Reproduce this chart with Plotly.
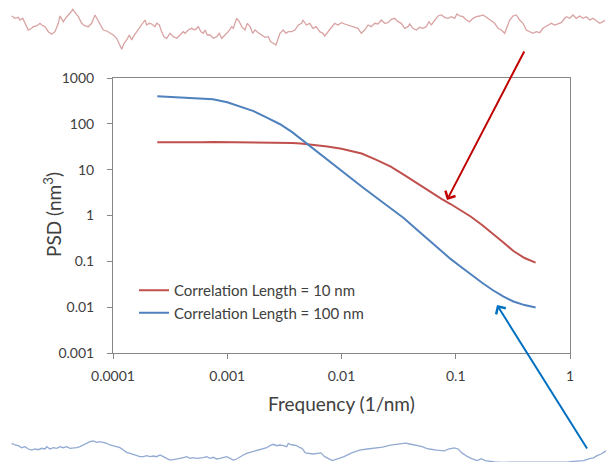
import plotly.graph_objects as go

# ---------------- PSD data ----------------
freq = [0.000244, 0.0004, 0.0006, 0.00075, 0.001, 0.0013, 0.0017, 0.0022, 0.0029,
        0.0037, 0.0044, 0.005, 0.006, 0.0075, 0.01, 0.0125, 0.015, 0.02, 0.027,
        0.035, 0.045, 0.06, 0.075, 0.09, 0.11, 0.135, 0.17, 0.21, 0.26, 0.32, 0.4, 0.5]

psd_10nm = [39.5, 39.0, 39.5, 40.0, 39.8, 38.5, 39.5, 38.8, 39.2,
            38.0, 37.0, 36.0, 34.5, 32.0, 28.7, 25.0, 22.5, 16.5, 11.7,
            7.8, 5.2, 3.3, 2.3, 1.78, 1.3, 0.95, 0.62, 0.41, 0.26, 0.168, 0.118, 0.094]

psd_100nm = [400, 372, 355, 343, 295, 235, 190, 138, 98,
             66, 47, 37, 26, 16.3, 9.3, 6.1, 4.3, 2.5, 1.45,
             0.88, 0.51, 0.273, 0.166, 0.113, 0.077, 0.052, 0.034, 0.0237, 0.0172, 0.0133, 0.0111, 0.0098]

x_tick_vals = [0.0001, 0.001, 0.01, 0.1, 1]
x_tick_text = ["0.0001", "0.001", "0.01", "0.1", "1"]
y_tick_vals = [0.001, 0.01, 0.1, 1, 10, 100, 1000]
y_tick_text = ["0.001", "0.01", "0.1", "1", "10", "100", "1000"]

series_names = ["Correlation Length = 10 nm", "Correlation Length = 100 nm"]
x_title = "Frequency (1/nm)"
y_title = "PSD (nm<sup>3</sup>)"

# ---------------- rough surface profiles ----------------
rough_top_x = [11.7, 15, 18.3, 20, 22.7, 25, 28.3, 31.7, 33.3, 36.7, 40, 41.7, 45, 48.3, 51.7, 55, 58.3, 60,
               61.7, 63.3, 66.7, 70, 72.7, 75, 78.3, 81.7, 85, 88.3, 91.7, 95, 96.7, 100, 103.3, 106.7, 110,
               113.3, 116.7, 120, 121.7, 124, 126.7, 129.3, 131.7, 133.3, 136.7, 140, 143.3, 145, 146.7,
               149.3, 151.7, 155, 156.7, 159.3, 161.7, 164, 166.7, 170, 173.3, 176.7, 180, 183.3, 185,
               188.3, 191.7, 195, 198.3, 201, 203.3, 205, 207.3, 210, 213.3, 216.7, 219.3, 221.7, 225,
               228.3, 231.7, 233.3, 236.7, 239.3, 241.7, 245, 247.3, 250, 252.7, 255, 258.3, 261.7, 265,
               268.3, 270.7, 273.3, 276, 278.3, 280, 283.3, 286, 288.3, 291.7, 295, 298.3, 301.7,
               303, 306.3, 309.7, 313, 316.3, 319.7, 323, 324.7, 328, 331.3, 334.7, 338, 341.3, 344.7,
               348, 351.3, 354.7, 358, 361.3, 364.7, 368, 371.3, 374.7, 378, 381.3, 384.7, 388, 391.3,
               394.7, 398, 401.3, 404.7, 408, 409.7, 413, 416.3, 419.7, 423, 426.3, 429, 431.3, 434.7,
               438, 441.3, 444.7, 448, 451.3, 454.7, 457, 459.7, 463, 466.3, 469.7, 473, 476.3, 479.7,
               483, 485.7, 488, 491.3, 494.7, 498, 501.3, 504.7, 507, 509.7, 513, 516.3, 519.7, 523,
               526.3, 529.7, 533, 536.3, 539.7, 543, 548, 551.3, 554.7, 558, 561.3, 564.7, 566.3, 569.7,
               573, 576.3, 579.7, 583, 586.3, 589.7, 593, 596.3, 599.7, 603, 605]
rough_top_y = [16, 18.3, 17.3, 20, 18.3, 22.7, 30, 28.3, 26.7, 26, 23.3, 25, 26.7, 31.7, 34.3, 31.7, 23.3, 16,
               18.3, 21.7, 16.7, 13.3, 9.3, 12.7, 16.7, 23.3, 26, 26.7, 23.3, 15, 18.3, 25, 30, 31, 33.3,
               35, 38.3, 45, 49.3, 43.3, 40, 35, 40, 36.7, 31.7, 26.7, 21.7, 20, 25,
               23.3, 24, 26.7, 23.3, 25, 31.7, 36.7, 38.3, 33.3, 36.7, 38.3, 35, 31.7, 33.3,
               30, 28.3, 30, 26.7, 31.7, 33.3, 30, 35, 35, 38.3, 36.7, 33.3, 38.3, 35,
               31.7, 26.7, 28.3, 18.3, 21.7, 26.7, 30, 23.3, 26.7, 33.3, 30, 32.7, 35, 37.3,
               36.7, 41.7, 43.3, 45, 38.3, 33.3, 30, 33.3, 31.7, 31.7, 30, 25, 23.3,
               20, 25, 23.3, 28.3, 26.7, 31.7, 33.3, 36, 31.7, 28.3, 23.3, 25, 22.7, 24,
               25, 26, 26.7, 28.3, 33.3, 30, 25, 26.7, 23.3, 24, 20, 23.3, 22.7, 19.3,
               18.3, 21.7, 23.3, 28.3, 26.7, 24, 28.3, 30, 27.3, 28.3, 26.7, 21.7, 25, 20,
               16, 15, 17.3, 18.3, 16.7, 18.3, 14, 16, 16.7, 20, 21.7, 18.3, 16.7, 16,
               15, 16.7, 18.3, 20.7, 23.3, 28.3, 30, 33.3, 26.7, 20, 16, 15, 20, 23.3,
               30, 31.7, 33.3, 31.7, 32.7, 28.3, 25, 23.3, 25, 24, 22.7, 18.3, 16.7, 18.3,
               15, 18.3, 16, 18.3, 16.7, 20, 18.3, 20.7, 23.3, 21.7, 20]

rough_bottom_x = [11.7, 15, 18.3, 21.7, 25, 28.3, 31.7, 35, 38.3, 41.7, 45, 46.7, 50, 53.3, 56.7, 60, 63.3,
                  66.7, 70, 73.3, 76.7, 80, 83.3, 86.7, 90, 93.3, 96.7, 100, 103.3, 106.7, 110, 113.3,
                  116.7, 120, 123.3, 126.7, 130, 133.3, 136.7, 140, 143.3, 146.7, 150, 153.3, 156.7, 160,
                  163.3, 166.7, 170, 173.3, 176.7, 180, 183.3, 186.7, 190, 193.3, 196.7, 200, 203.3,
                  206.7, 210, 213.3, 216.7, 220, 223.3, 226.7, 230, 233.3, 236.7, 240, 243.3, 246.7, 250,
                  253.3, 256.7, 260, 263.3, 266.7, 270, 273.3, 276.7, 280, 283.3, 286.7, 288.3, 290,
                  293.3, 296.7, 300, 302, 305.4, 313.1, 320.8, 324.7, 328.6, 332.4, 338.2, 344, 351.8,
                  359.5, 367.2, 375, 382.7, 390.4, 398.1, 405.9, 409.7, 415.5, 421.3, 425.2, 429.1,
                  436.8, 444.5, 448.4, 454.2, 458.1, 461.9, 467.7, 471.6, 477.4, 481.3, 485.1, 490.9,
                  494.8, 502.5, 533.4, 560.5, 568.2, 576, 583.7, 589.5, 593.4, 597.2, 601.1, 606]
rough_bottom_y = [443.3, 445, 445.7, 447.7, 446.7, 449, 450, 449, 449.7, 448.3, 449, 446.7, 449, 447.7, 448.3,
                  446.7, 447.7, 446.7, 448.3, 448.3, 447.7, 446.7, 445, 443.3, 441.7, 441, 442.3, 441.7,
                  442.3, 443.3, 445, 445.7, 446.7, 447.7, 450, 452.3, 453.3, 454.3, 455.7, 456.7, 456.7,
                  455.7, 456.7, 456, 456.7, 455, 456.7, 458.3, 460, 459.7, 459.3, 458.3, 457.7, 456.7,
                  458.3, 457.7, 458.3, 458.3, 457.7, 456.7, 458.3, 457.3, 459, 458.3, 457.7, 456.7, 458.3,
                  460, 459, 456.7, 455, 453.3, 452.3, 451, 450.3, 449, 448.3, 447.7, 445.7, 444.3, 445.7,
                  445, 445.7, 446.7, 443.3, 444.3, 445, 445.7, 447.7, 448.3, 452.9, 454, 452.9, 456.7,
                  458.7, 460.6, 458.7, 456.7, 452.9, 450.2, 449, 447.8, 447.1, 445.1, 444, 443.2, 444,
                  445.1, 446.3, 447.8, 449, 450.2, 450.9, 449, 447.8, 449, 452.9, 456.7, 458.7, 460.6,
                  458.7, 460.6, 461.5, 462, 462.3, 462.3, 462.3, 461.8, 461.2, 460.6, 458.7, 457.9, 455.6,
                  454, 450.9]

red = "#C0504D"
blue = "#4F81BD"
axis_grey = "#868686"
text_color = "#404040"
font_family = "Lato, 'Open Sans', sans-serif"

fig = go.Figure()
fig.add_trace(go.Scatter(x=freq, y=psd_10nm, mode="lines", name=series_names[0],
                         line=dict(color=red, width=2), legendgroup="a"))
fig.add_trace(go.Scatter(x=freq, y=psd_100nm, mode="lines", name=series_names[1],
                         line=dict(color=blue, width=2), legendgroup="b"))
fig.add_trace(go.Scatter(x=rough_top_x, y=rough_top_y, mode="lines", xaxis="x2", yaxis="y2",
                         line=dict(color="#D9A3A3", width=1.3), showlegend=False, hoverinfo="skip"))
fig.add_trace(go.Scatter(x=rough_bottom_x, y=rough_bottom_y, mode="lines", xaxis="x2", yaxis="y2",
                         line=dict(color="#93AAD2", width=1.3), showlegend=False, hoverinfo="skip"))

W, H = 606, 462
fig.update_layout(
    width=W, height=H,
    margin=dict(l=0, r=0, t=0, b=0),
    paper_bgcolor="white", plot_bgcolor="rgba(0,0,0,0)",
    font=dict(family=font_family, color=text_color, size=14),
    showlegend=True,
    legend=dict(x=134 / W, y=1 - 274 / H, xanchor="left", yanchor="top",
                bgcolor="rgba(0,0,0,0)", font=dict(size=15, color=text_color),
                tracegroupgap=0, itemwidth=30),
    xaxis=dict(type="log", range=[-4, 0], domain=[113 / W, 570 / W], anchor="y",
               showline=True, linecolor=axis_grey, linewidth=1, mirror=True,
               ticks="outside", ticklen=5, tickcolor=axis_grey,
               tickvals=x_tick_vals, ticktext=x_tick_text, showgrid=False, zeroline=False,
               ticklabelstandoff=5, automargin=False),
    yaxis=dict(type="log", range=[-3, 3], domain=[1 - 353 / H, 1 - 78 / H], anchor="x",
               showline=True, linecolor=axis_grey, linewidth=1, mirror=True,
               ticks="outside", ticklen=5, tickcolor=axis_grey,
               tickvals=y_tick_vals, ticktext=y_tick_text, showgrid=False, zeroline=False,
               ticklabelstandoff=10, automargin=False),
    xaxis2=dict(domain=[0, 1], range=[0, W], anchor="y2", visible=False, fixedrange=True),
    yaxis2=dict(domain=[0, 1], range=[H, 0], anchor="x2", visible=False, fixedrange=True),
    annotations=[
        dict(text=x_title, x=341.5 / W, y=1 - 403 / H, xref="paper", yref="paper",
             xanchor="center", yanchor="middle", showarrow=False,
             font=dict(size=19, color=text_color)),
        dict(text=y_title, x=52 / W, y=1 - 215 / H, xref="paper", yref="paper",
             xanchor="center", yanchor="middle", showarrow=False, textangle=-90,
             font=dict(size=19, color=text_color)),
        dict(x=447, y=200, xref="x2", yref="y2", ax=525, ay=50, axref="x2", ayref="y2",
             text="", showarrow=True, arrowhead=4, arrowsize=1.1, arrowwidth=2, arrowcolor="#C00000"),
        dict(x=497, y=305, xref="x2", yref="y2", ax=588, ay=450, axref="x2", ayref="y2",
             text="", showarrow=True, arrowhead=4, arrowsize=1.1, arrowwidth=2, arrowcolor="#0070C0"),
    ],
)

fig.write_html("out.html", config={"displayModeBar": False},
               post_script="document.body.style.margin='0';")
